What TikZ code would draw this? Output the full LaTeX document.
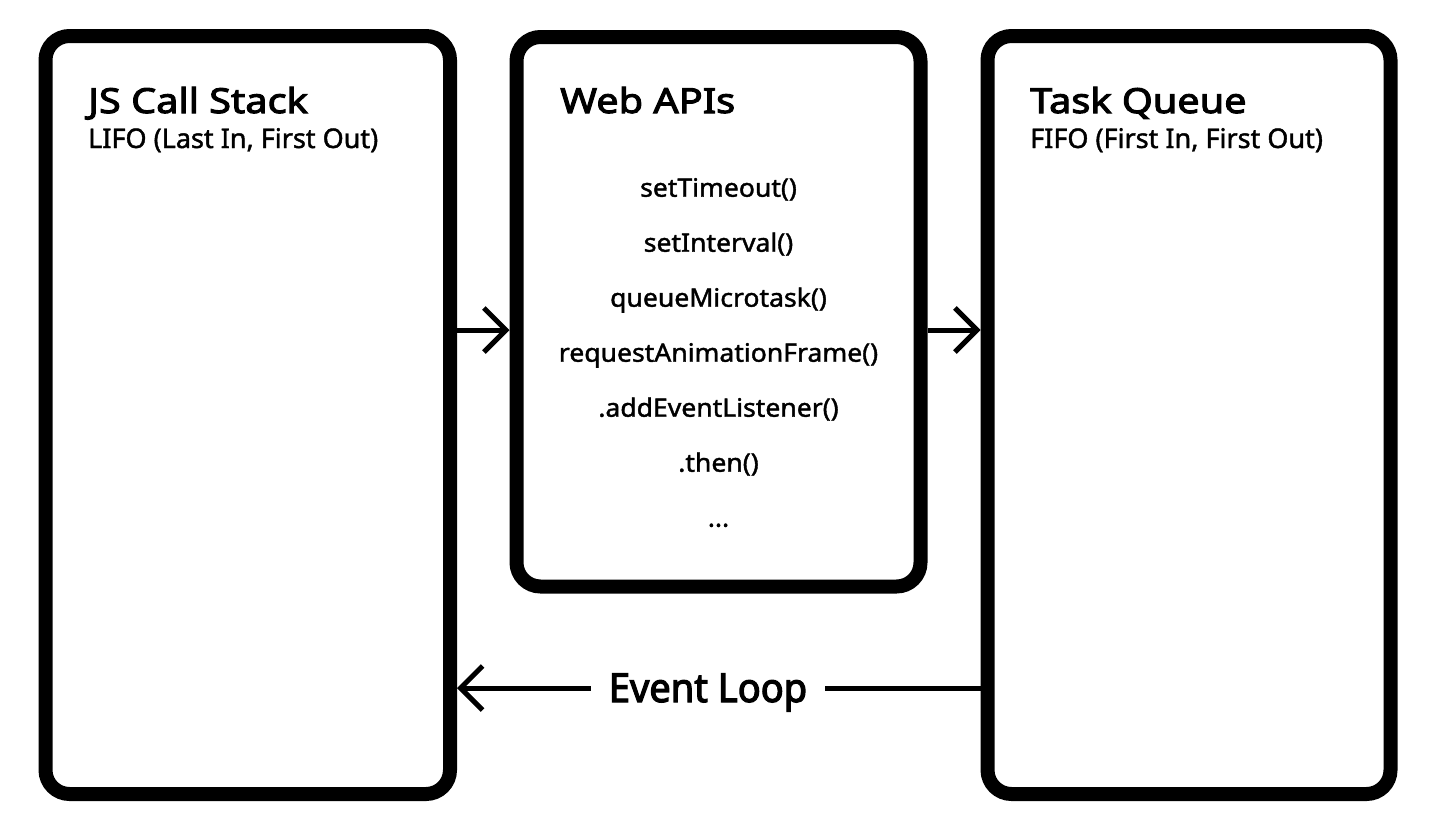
\documentclass[tikz,border=0pt]{standalone}
\usepackage{fontspec}
\setmainfont{Noto Sans}
\newfontfamily\ttlfont{Noto Sans}[FakeBold=3, FakeStretch=1.15]
\newfontfamily\elfont{Noto Sans}[FakeBold=3, FakeStretch=0.95]
\newfontfamily\itemfont{Noto Sans}[FakeBold=1.5, FakeStretch=1.05]
\newfontfamily\subfont{Noto Sans}[FakeBold=1.5]
\usetikzlibrary{arrows.meta}
\begin{document}
\begin{tikzpicture}[x=1pt,y=-1pt,
  box/.style={draw=black, line width=14pt, rounded corners=24pt, fill=white, inner sep=0pt},
  ttl/.style={anchor=base west, font=\ttlfont\fontsize{34.5}{40}\selectfont, inner sep=0pt},
  sub/.style={anchor=base west, font=\subfont\fontsize{27}{30}\selectfont, inner sep=0pt},
  item/.style={anchor=base, font=\itemfont\fontsize{25.3}{30}\selectfont, inner sep=0pt},
  conn/.style={line width=5pt},
  arr/.style={line width=5pt, -{Straight Barb[length=22pt,width=44pt,line width=5pt]}}]
\fill[white] (0,0) rectangle (1442,836);
\useasboundingbox (0,0) rectangle (1442,836);
% boxes
\node[box, minimum width=404.5pt, minimum height=758pt] (b1) at (247.75,415) {};
\node[box, minimum width=404pt, minimum height=549.5pt] (b2) at (718.5,311.75) {};
\node[box, minimum width=403pt, minimum height=758pt] (b3) at (1189,415) {};
% titles
\node[ttl] (t1) at (88,113) {JS Call Stack};
\node[sub] (s1) at (88,148) {LIFO (Last In, First Out)};
\node[ttl] (t2) at (560,113) {Web APIs};
\node[ttl] (t3) at (1030,113) {Task Queue};
\node[sub] (s3) at (1030,148) {FIFO (First In, First Out)};
% items
\node[item] (i1) at (718.5,196.7) {setTimeout()};
\node[item] (i2) at (718.5,251.7) {setInterval()};
\node[item] (i3) at (718.5,306.7) {queueMicrotask()};
\node[item] (i4) at (718.5,361.7) {requestAnimationFrame()};
\node[item] (i5) at (718.5,416.7) {.addEventListener()};
\node[item] (i6) at (718.5,471.7) {.then()};
\node[item] (i7) at (718.5,526.7) {...};
% arrows
\coordinate (ay) at (0,330);
\draw[arr] (b1.east |- ay) -- (b2.west |- ay);
\draw[arr] (b2.east |- ay) -- (b3.west |- ay);
% event loop
\coordinate (elc) at (708,688);
\node[anchor=base, font=\elfont\fontsize{40}{48}\selectfont, inner xsep=18pt, inner ysep=0pt] (el) at (708,702) {Event Loop};
\draw[conn] (b3.west |- elc) -- (el.east |- elc);
\draw[arr] (el.west |- elc) -- (b1.east |- elc);
\end{tikzpicture}
\end{document}
